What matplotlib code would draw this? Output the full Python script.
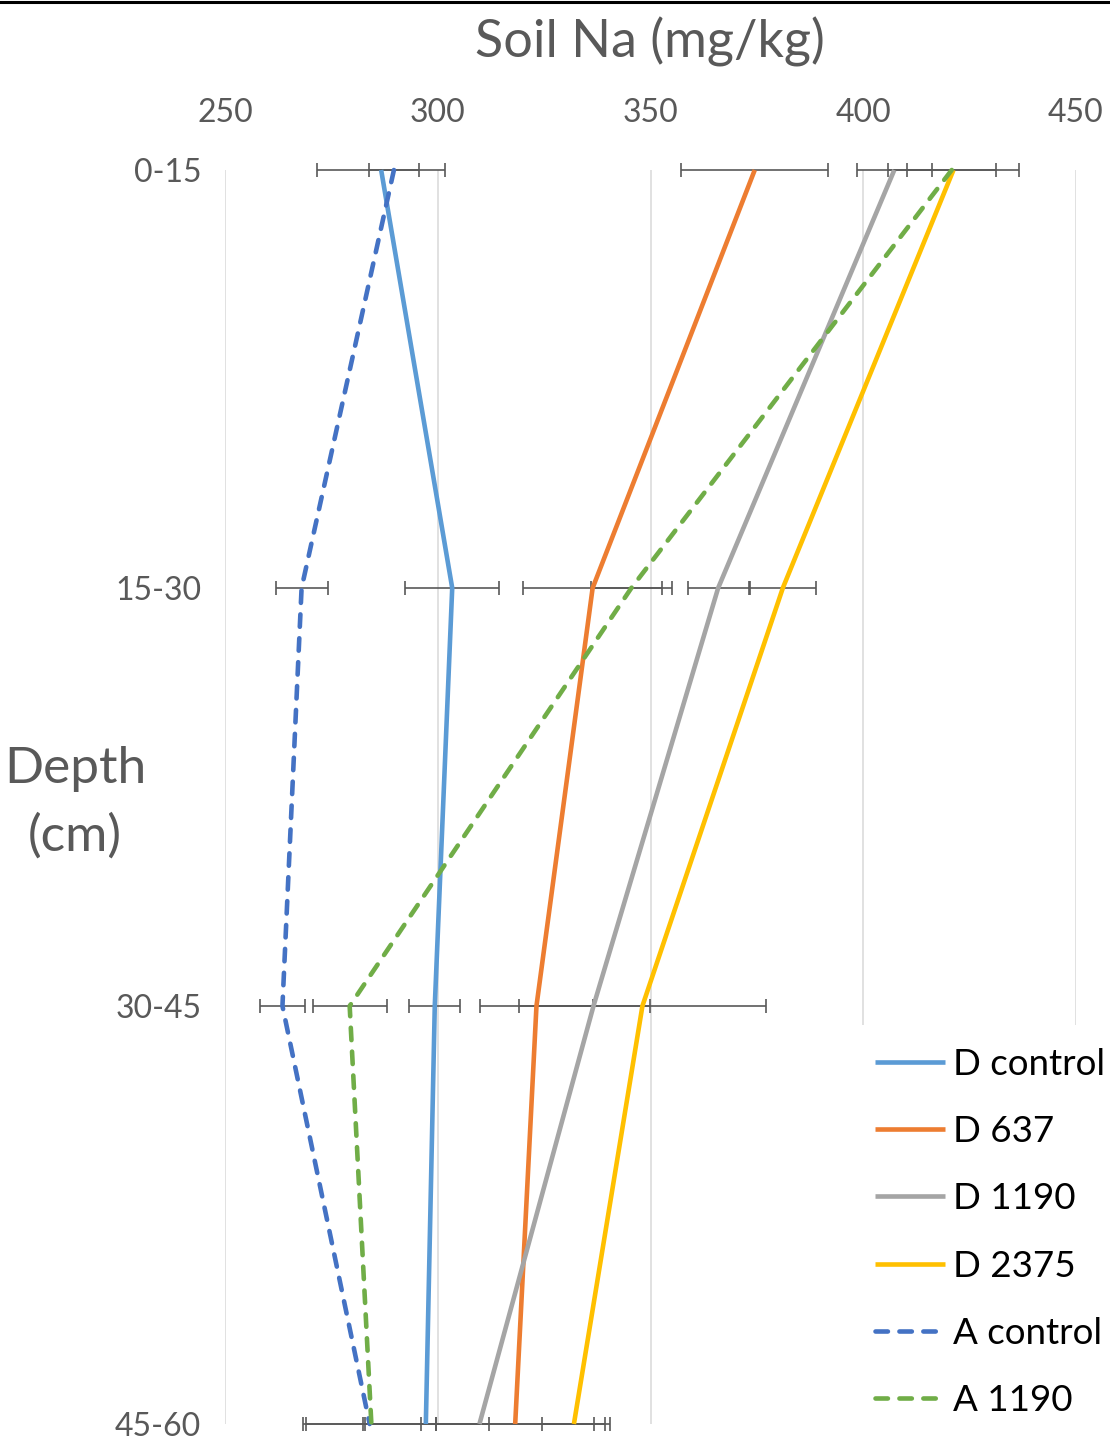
import matplotlib
matplotlib.use("Agg")
import matplotlib.pyplot as plt
from matplotlib.lines import Line2D

plt.rcParams['font.family'] = ['Lato', 'DejaVu Sans']

depths = ["0-15", "15-30", "30-45", "45-60"]
x_ticks = [250, 300, 350, 400, 450]

series_names = ["D control", "D 637", "D 1190", "D 2375", "A control", "A 1190"]
d_control = [286.7, 303.4, 299.3, 297.2]
d_control_err = [15.1, 11.1, 6.0, 14.8]
d_637 = [374.5, 336.4, 323.2, 318.2]
d_637_err = [17.3, 16.4, 13.3, 22.2]
d_1190 = [407.3, 365.9, 336.6, 309.8]
d_1190_err = [8.8, 7.2, 13.2, 27.0]
d_2375 = [421.2, 381.1, 348.1, 332.0]
d_2375_err = [15.3, 7.8, 29.1, 7.4]
a_control = [289.7, 268.0, 263.5, 284.0]
a_control_err = [5.9, 6.1, 5.2, 15.7]
a_1190 = [420.8, 345.5, 279.3, 284.4]
a_1190_err = [10.5, 9.6, 8.7, 15.3]

values = [d_control, d_637, d_1190, d_2375, a_control, a_1190]
errors = [d_control_err, d_637_err, d_1190_err, d_2375_err, a_control_err, a_1190_err]
colors = ["#5B9BD5", "#ED7D31", "#A5A5A5", "#FFC000", "#4472C4", "#70AD47"]
dashed = [False, False, False, False, True, True]

W, H = 1110, 1440
fig = plt.figure(figsize=(W / 100, H / 100), dpi=100)
ax = fig.add_axes([225 / W, 1 - 1424 / H, 851 / W, (1424 - 170) / H])

ypos = list(range(len(depths)))
grey = "#595959"
lw = 4.6 * 0.72
handles = []
for name, v, e, c, d in zip(series_names, values, errors, colors, dashed):
    ls = (0, (2.7, 2.5)) if d else "-"
    ax.errorbar(v, ypos, xerr=e, fmt="none", ecolor=grey, elinewidth=1.2,
                capsize=5, capthick=1.2, zorder=2, clip_on=False)
    ln, = ax.plot(v, ypos, color=c, lw=lw, linestyle=ls, zorder=3,
                  solid_capstyle="butt", dash_capstyle="round", clip_on=False,
                  label=name)
    handles.append(ln)

ax.set_xlim(250, 450)
ax.set_ylim(3, 0)
ax.set_xticks(x_ticks)
ax.set_xticklabels([str(t) for t in x_ticks])
ax.set_yticks(ypos)
ax.set_yticklabels(depths)
ax.xaxis.tick_top()
ax.tick_params(axis="x", length=0, pad=30, labelsize=23, labelcolor=grey)
ax.tick_params(axis="y", length=0, pad=17, labelsize=23, labelcolor=grey)
for s in ax.spines.values():
    s.set_visible(False)
ax.grid(axis="x", color="#D9D9D9", lw=1.1, zorder=0)
ax.set_axisbelow(True)

fig.text(650 / W, 1 - 42 / H, "Soil Na (mg/kg)", ha="center", va="center",
         fontsize=37.5, color=grey)
fig.text(75.5 / W, 1 - 783 / H, "Depth", ha="center", va="baseline",
         fontsize=37, color=grey)
fig.text(75 / W, 1 - 851 / H, "(cm)", ha="center", va="baseline",
         fontsize=37, color=grey)

fs_px = 26.5 * 100 / 72
bp = 0.62
leg = ax.legend(handles=handles, loc="upper left",
                bbox_to_anchor=((875 - bp * fs_px) / W, 1 - 1025 / H),
                bbox_transform=fig.transFigure,
                frameon=True, facecolor="white", edgecolor="none", framealpha=1,
                fontsize=26.5, borderpad=bp, borderaxespad=0,
                handlelength=70 / fs_px, handletextpad=8 / fs_px,
                labelspacing=0.93)
leg.set_zorder(10)
for t in leg.get_texts():
    t.set_color("black")

fig.add_artist(Line2D([0, 1], [1 - 1.5 / H, 1 - 1.5 / H], transform=fig.transFigure,
                      color="black", lw=2.2))

fig.savefig("out.png", dpi=100, facecolor="white")
